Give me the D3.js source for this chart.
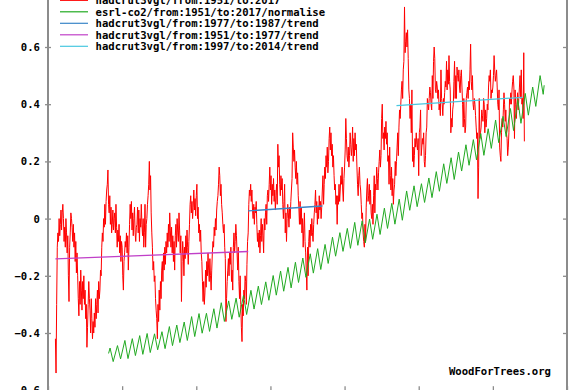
<!DOCTYPE html>
<html>
<head>
<meta charset="utf-8">
<script src="https://cdn.jsdelivr.net/npm/d3@7"></script>
<style>
body { margin: 0; background: #fff; }
svg text { font-family: "DejaVu Sans Mono", monospace; font-weight: bold; font-size: 10.6px; fill: #000; }
</style>
</head>
<body>
<div id="chart"></div>
<script>
// hadcrut3vgl monthly anomaly, one row per year, starting Jan 1951
const hadcrutStart = 1951;
const hadcrut = [
  -0.42, -0.54, -0.30, -0.10, -0.05, -0.08, 0.00, -0.06, -0.02, 0.03, -0.04, 0.02,
  0.05, 0.00, -0.08, -0.03, -0.10, 0.00, -0.05, -0.12, -0.06, -0.20, -0.29, -0.10,
  -0.05, 0.02, 0.00, -0.03, -0.08, -0.02, -0.10, -0.05, -0.15, -0.08, -0.19, -0.12,
  -0.20, -0.28, -0.34, -0.22, -0.30, -0.18, -0.25, -0.32, -0.22, -0.28, -0.20, -0.30,
  -0.25, -0.35, -0.30, -0.45, -0.38, -0.30, -0.22, -0.28, -0.32, -0.40, -0.28, -0.35,
  -0.42, -0.36, -0.40, -0.33, -0.38, -0.28, -0.35, -0.30, -0.25, -0.33, -0.22, -0.28,
  -0.25, -0.18, -0.20, -0.10, -0.05, -0.08, 0.00, -0.03, 0.05, -0.02, 0.06, 0.10,
  0.12, 0.17, 0.05, 0.02, 0.08, -0.02, 0.04, -0.05, -0.02, 0.03, -0.04, 0.00,
  0.02, -0.05, 0.05, -0.03, -0.10, -0.04, -0.08, -0.02, -0.12, -0.06, -0.15, -0.08,
  -0.10, -0.20, -0.25, -0.15, -0.12, -0.08, -0.10, -0.05, -0.12, -0.06, -0.18, -0.10,
  -0.02, 0.05, 0.00, 0.06, -0.04, 0.02, -0.06, 0.00, 0.04, -0.05, -0.08, -0.03,
  -0.02, 0.04, -0.05, 0.03, -0.08, 0.00, -0.03, 0.05, -0.02, -0.06, 0.00, -0.10,
  -0.05, 0.05, -0.10, -0.02, 0.00, 0.05, 0.08, 0.12, 0.20, 0.10, 0.15, 0.02,
  -0.05, -0.10, -0.18, -0.15, -0.22, -0.20, -0.28, -0.32, -0.35, -0.42, -0.30, -0.36,
  -0.25, -0.32, -0.22, -0.28, -0.18, -0.15, -0.22, -0.12, -0.18, -0.10, -0.16, -0.08,
  -0.12, -0.05, -0.10, -0.02, -0.08, 0.02, -0.04, -0.10, -0.03, -0.12, -0.06, -0.15,
  -0.08, -0.18, -0.06, -0.02, -0.10, 0.00, -0.05, -0.08, 0.02, -0.04, -0.12, -0.06,
  -0.29, -0.15, -0.08, -0.12, -0.20, -0.10, -0.14, -0.06, -0.12, -0.04, -0.10, -0.16,
  -0.08, -0.02, 0.05, 0.08, 0.02, 0.06, 0.00, 0.04, 0.10, 0.03, 0.07, 0.01,
  0.08, 0.12, 0.00, 0.04, -0.05, -0.02, -0.08, -0.04, -0.12, -0.15, -0.22, -0.29,
  -0.22, -0.30, -0.26, -0.18, -0.24, -0.15, -0.20, -0.12, -0.18, -0.22, -0.14, -0.20,
  -0.25, -0.18, -0.12, -0.08, -0.10, -0.03, -0.06, 0.00, -0.04, 0.03, 0.06, 0.08,
  0.12, 0.18, 0.15, 0.08, 0.12, 0.05, 0.02, -0.02, -0.05, -0.02, -0.10, -0.14,
  -0.36, -0.28, -0.22, -0.18, -0.14, -0.20, -0.12, -0.16, -0.10, -0.22, -0.18, -0.25,
  -0.10, -0.05, -0.12, -0.08, -0.02, -0.06, -0.12, -0.18, -0.10, -0.22, -0.28, -0.20,
  -0.30, -0.38, -0.43, -0.30, -0.34, -0.25, -0.28, -0.20, -0.22, -0.30, -0.16, -0.08,
  -0.05, 0.05, 0.10, 0.08, 0.12, 0.06, 0.10, 0.03, 0.00, 0.05, -0.02, 0.04,
  0.02, 0.06, -0.02, -0.08, -0.05, -0.10, -0.04, -0.12, -0.06, 0.00, -0.08, -0.02,
  -0.06, -0.12, 0.00, -0.04, 0.02, 0.05, -0.02, 0.08, 0.10, 0.06, 0.12, 0.18,
  0.10, 0.15, 0.05, 0.12, 0.08, 0.14, 0.06, 0.10, 0.03, 0.08, 0.12, 0.05,
  0.26, 0.18, 0.22, 0.12, 0.08, 0.15, 0.10, 0.14, 0.05, 0.00, 0.06, 0.12,
  -0.05, 0.02, -0.08, 0.00, 0.05, 0.02, -0.03, 0.04, 0.00, 0.06, 0.10, 0.14,
  0.30, 0.25, 0.20, 0.24, 0.18, 0.14, 0.20, 0.12, 0.16, 0.08, 0.04, -0.02,
  0.06, -0.02, 0.04, -0.05, 0.00, -0.10, -0.04, 0.02, -0.08, -0.12, -0.18, -0.25,
  -0.10, -0.20, -0.08, -0.04, -0.10, -0.02, -0.06, 0.00, -0.05, -0.08, -0.02, 0.02,
  0.05, 0.10, 0.02, 0.06, -0.02, 0.04, 0.00, 0.08, 0.03, 0.06, 0.00, 0.04,
  0.10, 0.15, 0.05, 0.12, 0.18, 0.14, 0.22, 0.18, 0.25, 0.16, 0.20, 0.28,
  0.32, 0.24, 0.30, 0.22, 0.26, 0.18, 0.22, 0.15, 0.10, 0.12, 0.05, 0.08,
  -0.02, 0.08, 0.05, 0.12, 0.06, 0.10, 0.15, 0.12, 0.18, 0.10, 0.06, 0.14,
  0.18, 0.24, 0.35, 0.28, 0.22, 0.20, 0.25, 0.18, 0.22, 0.30, 0.26, 0.22,
  0.25, 0.32, 0.20, 0.28, 0.22, 0.30, 0.24, 0.26, 0.18, 0.12, 0.08, 0.15,
  0.18, 0.12, 0.10, 0.05, 0.00, 0.02, -0.05, -0.08, -0.10, -0.02, -0.08, 0.04,
  0.10, 0.14, 0.06, 0.08, 0.12, 0.05, 0.10, 0.02, 0.00, 0.05, -0.02, 0.08,
  0.15, 0.02, 0.12, 0.10, 0.18, 0.14, 0.10, 0.16, 0.20, 0.24, 0.18, 0.22,
  0.35, 0.40, 0.28, 0.30, 0.24, 0.32, 0.28, 0.34, 0.26, 0.30, 0.20, 0.22,
  0.12, 0.25, 0.15, 0.10, 0.18, 0.08, 0.14, 0.05, 0.10, 0.12, 0.20, 0.15,
  0.20, 0.25, 0.30, 0.22, 0.32, 0.38, 0.35, 0.40, 0.45, 0.48, 0.42, 0.52,
  0.55, 0.74, 0.58, 0.62, 0.65, 0.60, 0.66, 0.56, 0.45, 0.42, 0.35, 0.40,
  0.30, 0.45, 0.20, 0.25, 0.18, 0.22, 0.28, 0.25, 0.30, 0.26, 0.24, 0.28,
  0.15, 0.30, 0.32, 0.38, 0.22, 0.25, 0.28, 0.26, 0.30, 0.20, 0.18, 0.22,
  0.30, 0.32, 0.42, 0.40, 0.38, 0.42, 0.46, 0.44, 0.40, 0.38, 0.50, 0.42,
  0.55, 0.60, 0.56, 0.45, 0.44, 0.48, 0.46, 0.42, 0.45, 0.38, 0.40, 0.36,
  0.52, 0.42, 0.40, 0.36, 0.42, 0.40, 0.44, 0.48, 0.46, 0.55, 0.45, 0.52,
  0.47, 0.57, 0.48, 0.45, 0.30, 0.35, 0.32, 0.38, 0.40, 0.48, 0.55, 0.42,
  0.50, 0.42, 0.53, 0.50, 0.48, 0.52, 0.46, 0.44, 0.50, 0.52, 0.46, 0.40,
  0.32, 0.42, 0.35, 0.30, 0.32, 0.42, 0.44, 0.46, 0.42, 0.48, 0.45, 0.52,
  0.61, 0.48, 0.45, 0.50, 0.40, 0.38, 0.42, 0.40, 0.36, 0.32, 0.28, 0.30,
  0.07, 0.18, 0.42, 0.28, 0.30, 0.32, 0.38, 0.36, 0.34, 0.42, 0.40, 0.30,
  0.38, 0.32, 0.35, 0.40, 0.38, 0.46, 0.50, 0.48, 0.52, 0.42, 0.45, 0.44,
  0.46, 0.50, 0.57, 0.52, 0.48, 0.50, 0.52, 0.46, 0.40, 0.38, 0.45, 0.25,
  0.22, 0.20, 0.30, 0.35, 0.32, 0.38, 0.44, 0.40, 0.34, 0.38, 0.30, 0.28,
  0.22, 0.25, 0.30, 0.42, 0.40, 0.44, 0.40, 0.45, 0.48, 0.50, 0.46, 0.28,
  0.45, 0.40, 0.35, 0.40, 0.44, 0.38, 0.42, 0.46, 0.50, 0.42, 0.52, 0.40,
  0.42, 0.35, 0.58, 0.27
];

// esrl-co2 (ppm): first month, yearly May peaks and Oct troughs, last month
const co2Start = [1958.17, 315.7];
const co2FirstYear = 1958;
const co2Peak = [
  317.5, 318.3, 320.0, 320.6, 321.6, 322.3, 322.2, 322.9, 324.6, 325.1,
  326.1, 327.9, 328.9, 329.0, 330.5, 332.5, 333.1, 334.0, 334.9, 336.6,
  338.0, 339.4, 341.5, 343.0, 344.2, 345.9, 347.3, 348.7, 350.4, 351.8,
  354.2, 355.7, 357.1, 359.1, 359.6, 360.2, 361.8, 363.8, 365.4, 366.8,
  369.5, 371.2, 371.9, 373.8, 375.9, 378.5, 380.5, 382.4, 384.8, 386.5,
  388.5, 390.1, 393.0, 394.2, 396.8, 399.8, 401.8, 403.9, 407.7
];
const co2Trough = [
  313.0, 313.9, 314.0, 315.0, 315.4, 316.0, 316.9, 317.3, 318.3, 319.3,
  320.0, 321.3, 322.4, 323.0, 324.1, 326.3, 327.0, 327.7, 328.6, 330.4,
  331.9, 333.3, 335.0, 336.3, 337.4, 339.2, 340.9, 342.3, 343.5, 345.5,
  347.9, 349.5, 350.5, 351.5, 352.3, 353.5, 355.1, 357.1, 358.5, 359.8,
  363.1, 364.3, 365.7, 367.3, 369.4, 372.0, 373.3, 376.1, 378.0, 379.8,
  381.3, 383.6, 385.5, 387.5, 389.5, 391.9, 394.6, 397.5, 401.5
];
const co2End = [2016.92, 404.5];

// trend lines
const trendFrom  = [1977, 1951, 1997];
const trendTo    = [1987, 1977, 2014];
const trendStart = [0.027, -0.141, 0.395];
const trendEnd   = [0.044, -0.115, 0.424];

const legendLabels = [
  "hadcrut3vgl/from:1951/to:2017",
  "esrl-co2/from:1951/to:2017/normalise",
  "hadcrut3vgl/from:1977/to:1987/trend",
  "hadcrut3vgl/from:1951/to:1977/trend",
  "hadcrut3vgl/from:1997/to:2014/trend"
];
const colors = ["#ff0000", "#22aa22", "#3a86c8", "#c040c8", "#48c8e0"];

const yTicks = [-0.6, -0.4, -0.2, 0, 0.2, 0.4, 0.6];
const xTicks = [1950, 1960, 1970, 1980, 1990, 2000, 2010, 2020];

const W = 585, H = 390;
const left = 48, right = 567, bottom = 390.2;

const svg = d3.select("#chart").append("svg")
    .attr("width", W).attr("height", H);

const x = d3.scaleLinear().domain([1950, 2020]).range([left, right]);
const y = d3.scaleLinear().domain([-0.6, 0.8]).range([bottom, bottom - 7 * 57.2]);

// series
const hadPts = hadcrut.map((v, i) => [hadcrutStart + i / 12, v]);

let co2Pts = [co2Start];
co2Peak.forEach((p, i) => {
    co2Pts.push([co2FirstYear + i + 0.37, p]);
    co2Pts.push([co2FirstYear + i + 0.79, co2Trough[i]]);
});
co2Pts.push(co2End);
// normalise to -0.5 .. 0.5
const [cMin, cMax] = d3.extent(co2Pts, d => d[1]);
co2Pts = co2Pts.map(d => [d[0], (d[1] - cMin) / (cMax - cMin) - 0.5]);

const line = d3.line().x(d => x(d[0])).y(d => y(d[1]));

svg.append("path").datum(hadPts)
    .attr("d", line).attr("fill", "none")
    .attr("stroke", colors[0]).attr("stroke-width", 1);

svg.append("path").datum(co2Pts)
    .attr("d", line).attr("fill", "none")
    .attr("stroke", colors[1]).attr("stroke-width", 1);

trendFrom.forEach((f, i) => {
    svg.append("path")
        .datum([[f, trendStart[i]], [trendTo[i], trendEnd[i]]])
        .attr("d", line).attr("fill", "none")
        .attr("stroke", colors[i + 2]).attr("stroke-width", 1.3);
});

// axes
const axisColor = "#8c8c8c";
const yLeft = svg.append("g")
    .attr("transform", "translate(" + left + ",0)")
    .call(d3.axisLeft(y).tickValues(yTicks).tickSize(3).tickPadding(5)
        .tickFormat(d => d3.format("~g")(d)));
const yRight = svg.append("g")
    .attr("transform", "translate(" + right + ",0)")
    .call(d3.axisLeft(y).tickValues(yTicks).tickSize(-4).tickFormat(""));
// year labels sit below the visible area, so only the ticks are drawn
const xBottom = svg.append("g")
    .attr("transform", "translate(0," + bottom + ")")
    .call(d3.axisBottom(x).tickValues(xTicks).tickSize(-4).tickFormat(""));
// right-side ticks point inwards
yRight.selectAll(".tick line").attr("x2", -4);

[yLeft, yRight, xBottom].forEach(g => {
    g.select(".domain").remove();
    g.selectAll(".tick line").attr("stroke", axisColor).attr("stroke-width", 1.3);
    g.selectAll("text").attr("font-family", null).attr("font-size", null);
});
yLeft.selectAll(".tick line").attr("x1", 3);

svg.append("line").attr("x1", left).attr("x2", left).attr("y1", 0).attr("y2", H)
    .attr("stroke", axisColor).attr("stroke-width", 2);
svg.append("line").attr("x1", right).attr("x2", right).attr("y1", 0).attr("y2", H)
    .attr("stroke", axisColor).attr("stroke-width", 2);

// legend
const legend = svg.append("g");
legendLabels.forEach((lbl, i) => {
    const ly = 0.3 + i * 11.5;
    legend.append("line")
        .attr("x1", 60).attr("x2", 88).attr("y1", ly).attr("y2", ly)
        .attr("stroke", colors[i]).attr("stroke-width", 1.2);
    legend.append("text")
        .attr("x", 95.5).attr("y", ly + 3.8)
        .text(lbl);
});

svg.append("text")
    .attr("x", 551).attr("y", 374.5)
    .attr("text-anchor", "end")
    .text("WoodForTrees.org");
</script>
</body>
</html>
